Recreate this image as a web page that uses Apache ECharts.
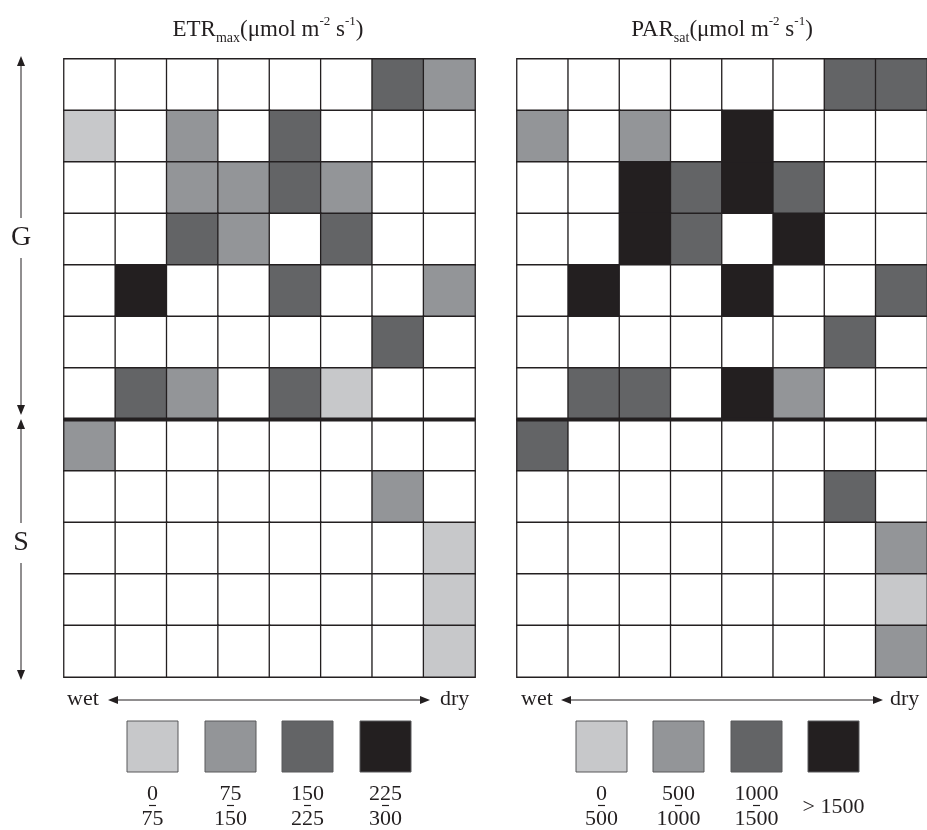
<!DOCTYPE html>
<html><head><meta charset="utf-8">
<script src="https://cdn.jsdelivr.net/npm/echarts@6/dist/echarts.min.js"></script>
<style>html,body{margin:0;padding:0;background:#fff}#c{width:927px;height:830px}</style>
</head><body><div id="c"></div><script>
// Columns: moisture gradient wet -> dry; rows: G (7) then S (5)
const columns = ['c1','c2','c3','c4','c5','c6','c7','c8'];
const rows = ['G1','G2','G3','G4','G5','G6','G7','S1','S2','S3','S4','S5'];
// class codes: 0 = blank (white), 1..4 = legend classes
const etrClasses = [
  [0,0,0,0,0,0,3,2],
  [1,0,2,0,3,0,0,0],
  [0,0,2,2,3,2,0,0],
  [0,0,3,2,0,3,0,0],
  [0,4,0,0,3,0,0,2],
  [0,0,0,0,0,0,3,0],
  [0,3,2,0,3,1,0,0],
  [2,0,0,0,0,0,0,0],
  [0,0,0,0,0,0,2,0],
  [0,0,0,0,0,0,0,1],
  [0,0,0,0,0,0,0,1],
  [0,0,0,0,0,0,0,1]
];
const parClasses = [
  [0,0,0,0,0,0,3,3],
  [2,0,2,0,4,0,0,0],
  [0,0,4,3,4,3,0,0],
  [0,0,4,3,0,4,0,0],
  [0,4,0,0,4,0,0,3],
  [0,0,0,0,0,0,3,0],
  [0,3,3,0,4,2,0,0],
  [3,0,0,0,0,0,0,0],
  [0,0,0,0,0,0,3,0],
  [0,0,0,0,0,0,0,2],
  [0,0,0,0,0,0,0,1],
  [0,0,0,0,0,0,0,2]
];
const etrLegendTop = ['0','75','150','225'];
const etrLegendBottom = ['75','150','225','300'];
const parLegendTop = ['0','500','1000',null];
const parLegendBottom = ['500','1000','1500',null];
const parLegendSingle = [null,null,null,'> 1500'];
const classColors = ['#ffffff','#c7c8ca','#939598','#636466','#231f20'];

const FONT = "'Liberation Serif','DejaVu Serif',serif";
const INK = '#231f20';

function toData(m){
  const out = [];
  m.forEach((r,ri)=>r.forEach((v,ci)=>out.push([ci,ri,v])));
  return out;
}
const pieces = classColors.map((c,i)=>({value:i,color:c}));

const grids = [
  {left:64, top:59, width:411, height:618},
  {left:517, top:59, width:410, height:618}
];

const chart = echarts.init(document.getElementById('c'), null, {renderer:'canvas'});

function titleText(main, sub, cx){
  return {
    type:'text', z:10,
    style:{
      x:cx, y:30, align:'center', verticalAlign:'middle',
      text:'{a|'+main+'}{b|'+sub+'}{a|(μmol m}{c|-2}{a| s}{c|-1}{a|)}',
      rich:{
        a:{fontFamily:FONT,fontSize:23,lineHeight:30,fill:INK,color:INK},
        b:{fontFamily:FONT,fontSize:14,lineHeight:14,verticalAlign:'bottom',fill:INK,color:INK},
        c:{fontFamily:FONT,fontSize:13,lineHeight:14,verticalAlign:'top',fill:INK,color:INK}
      }
    }
  };
}
function arrowHead(x,y,dir){ // tip at (x,y)
  const L=10, H=4;
  let pts;
  if(dir==='up') pts=[[x,y],[x-H,y+L],[x+H,y+L]];
  else if(dir==='down') pts=[[x,y],[x-H,y-L],[x+H,y-L]];
  else if(dir==='left') pts=[[x,y],[x+L,y-H],[x+L,y+H]];
  else pts=[[x,y],[x-L,y-H],[x-L,y+H]];
  return {type:'polygon',z:10,shape:{points:pts},style:{fill:INK}};
}
function line(x1,y1,x2,y2,w){
  return {type:'line',z:10,shape:{x1,y1,x2,y2},style:{stroke:INK,lineWidth:w||1}};
}
function txt(t,x,y,size,align,extra){
  return {type:'text',z:11,style:Object.assign({text:t,x,y,align:align||'center',verticalAlign:'middle',
    font:size+'px '+FONT,fill:INK},extra||{})};
}

const option = {
  backgroundColor:'#fff',
  animation:false,
  grid: grids,
  xAxis: grids.map((g,i)=>({type:'category',gridIndex:i,data:columns,show:false})),
  yAxis: grids.map((g,i)=>({type:'category',gridIndex:i,data:rows,inverse:true,show:false})),
  visualMap:[
    {type:'piecewise',show:false,seriesIndex:0,dimension:2,pieces:pieces},
    {type:'piecewise',show:false,seriesIndex:1,dimension:2,pieces:pieces}
  ],
  series:[
    {type:'heatmap',xAxisIndex:0,yAxisIndex:0,data:toData(etrClasses),
     itemStyle:{borderColor:INK,borderWidth:1.3},emphasis:{disabled:true},silent:true},
    {type:'heatmap',xAxisIndex:1,yAxisIndex:1,data:toData(parClasses),
     itemStyle:{borderColor:INK,borderWidth:1.3},emphasis:{disabled:true},silent:true}
  ]
};
chart.setOption(option);

// annotation graphics
const g = [];
g.push(titleText('ETR','max',268));
g.push(titleText('PAR','sat',722));

// G / S divider (between row 7 and row 8)
grids.forEach((gr,i)=>{
  const y6 = chart.convertToPixel({yAxisIndex:i}, rows[6]);
  const y7 = chart.convertToPixel({yAxisIndex:i}, rows[7]);
  const yb = (y6+y7)/2;
  g.push({type:'line',z:12,shape:{x1:gr.left,y1:yb,x2:gr.left+gr.width,y2:yb},style:{stroke:INK,lineWidth:4}});
});

// left vertical arrows
g.push(line(21,62,21,408));
g.push(arrowHead(21,56,'up'));
g.push(arrowHead(21,415,'down'));
g.push(txt('G',21,238,28,'center',{backgroundColor:'#fff',padding:[6,2,6,2]}));
g.push(line(21,425,21,674));
g.push(arrowHead(21,419,'up'));
g.push(arrowHead(21,680,'down'));
g.push(txt('S',21,543,28,'center',{backgroundColor:'#fff',padding:[6,2,6,2]}));

// wet <-> dry
[[67,108,430,440],[521,561,883,890]].forEach(p=>{
  g.push(txt('wet',p[0],699,22,'left'));
  g.push(line(p[1]+5,700,p[2]-5,700));
  g.push(arrowHead(p[1],700,'left'));
  g.push(arrowHead(p[2],700,'right'));
  g.push(txt('dry',p[3],699,22,'left'));
});

// legends
function legend(xs, tops, bottoms, singles){
  xs.forEach((x,i)=>{
    g.push({type:'rect',z:10,shape:{x:x,y:721,width:51,height:51},
      style:{fill:classColors[i+1],stroke:'#58595b',lineWidth:1}});
    const cx = x+25.5;
    if(tops[i]!=null){
      g.push(txt(tops[i],cx,794,22));
      g.push(line(cx-3.5,805.5,cx+3.5,805.5,1.2));
      g.push(txt(bottoms[i],cx,819,22));
    } else if(singles && singles[i]!=null){
      g.push(txt(singles[i],cx,807,22));
    }
  });
}
legend([127,205,282,360], etrLegendTop, etrLegendBottom);
legend([576,653,731,808], parLegendTop, parLegendBottom, parLegendSingle);

chart.setOption({graphic:{elements:g}});
</script></body></html>
